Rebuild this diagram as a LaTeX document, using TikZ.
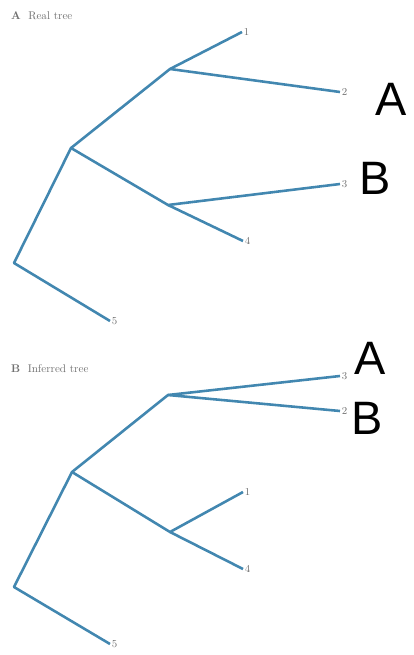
\documentclass[tikz,border=0pt]{standalone}
\usepackage{fontspec}
\usepackage{tikz}
\usepackage{xcolor}
\usetikzlibrary{positioning}
\newfontfamily\bigsans{Liberation Sans}
\definecolor{branchblue}{HTML}{4287B0}
\definecolor{labelgray}{HTML}{707070}

\begin{document}
\begin{tikzpicture}[x=0.03cm,y=-0.03cm,
    branch/.style={draw=branchblue,line width=2.2pt,line join=round},
    leaf/.style={anchor=west,inner sep=1.5pt,text=labelgray,font=\fontsize{9}{9}\selectfont},
    panel/.style={anchor=west,inner sep=0pt,text=labelgray,font=\fontsize{9.5}{9.5}\selectfont},
    bigmark/.style={inner sep=0pt,font=\bigsans\fontsize{40}{40}\selectfont}]
  \useasboundingbox (0,0) rectangle (413,655);

  % real tree
  \node[panel] (ta) at (11,16) {\textbf{A}\ \ Real tree};
  \coordinate (ra) at (14,263);
  \coordinate (na) at (71,148);
  \coordinate (ua) at (170,69);
  \coordinate (va) at (168,205);
  \node[leaf] (a1) at (242,32) {1};
  \node[leaf] (a2) at (340,92) {2};
  \node[leaf] (a3) at (340,184) {3};
  \node[leaf] (a4) at (243,241) {4};
  \node[leaf] (a5) at (110,321) {5};
  \draw[branch] (a5.west) -- (ra) -- (na) -- (ua) -- (a1.west);
  \draw[branch] (ua) -- (a2.west);
  \draw[branch] (na) -- (va) -- (a3.west);
  \draw[branch] (va) -- (a4.west);
  \node[bigmark] (ma) at (391,99) {A};
  \node[bigmark] (mb) at (375,178) {B};

  % inferred tree
  \node[panel] (tb) at (11,369) {\textbf{B}\ \ Inferred tree};
  \coordinate (rb) at (14,587);
  \coordinate (nb) at (72,472);
  \coordinate (ub) at (168,395);
  \coordinate (vb) at (170,532);
  \node[leaf] (b3) at (340,376) {3};
  \node[leaf] (b2) at (340,411) {2};
  \node[leaf] (b1) at (243,492) {1};
  \node[leaf] (b4) at (243,569) {4};
  \node[leaf] (b5) at (110,644) {5};
  \draw[branch] (b5.west) -- (rb) -- (nb) -- (ub) -- (b3.west);
  \draw[branch] (ub) -- (b2.west);
  \draw[branch] (nb) -- (vb) -- (b1.west);
  \draw[branch] (vb) -- (b4.west);
  \node[bigmark] (mc) at (370,358) {A};
  \node[bigmark] (md) at (367,418) {B};
\end{tikzpicture}
\end{document}
